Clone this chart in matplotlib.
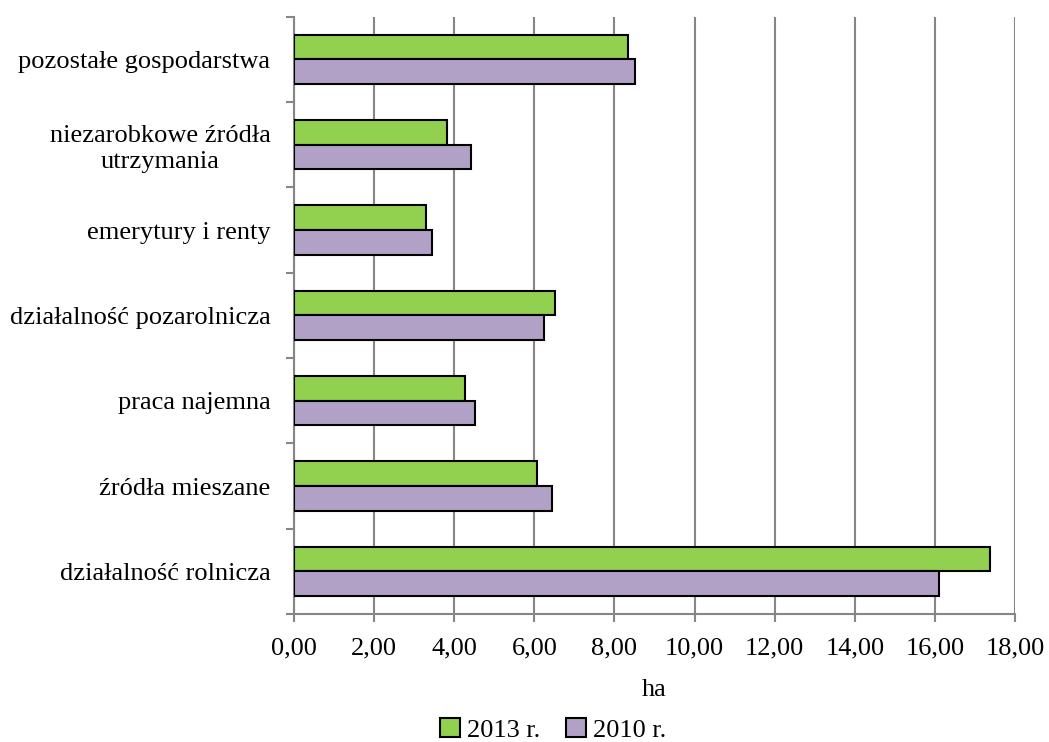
import matplotlib
matplotlib.use("Agg")
import matplotlib.pyplot as plt
import numpy as np

categories = ["działalność rolnicza", "źródła mieszane", "praca najemna",
              "działalność pozarolnicza", "emerytury i renty",
              "niezarobkowe źródła\nutrzymania", "pozostałe gospodarstwa"]
values_2013 = [17.37, 6.07, 4.28, 6.52, 3.30, 3.82, 8.33]
values_2010 = [16.10, 6.43, 4.53, 6.24, 3.45, 4.41, 8.52]
xticks = [0, 2, 4, 6, 8, 10, 12, 14, 16, 18]
xticklabels = ["0,00", "2,00", "4,00", "6,00", "8,00", "10,00", "12,00", "14,00", "16,00", "18,00"]
series_labels = ["2013 r.", "2010 r."]

plt.rcParams['font.family'] = ['Liberation Serif', 'DejaVu Serif']
FS = 19

fig = plt.figure(figsize=(10.49, 7.42), dpi=100)
ax = fig.add_axes([294/1049, 1-614/742, (1015-294)/1049, (614-16.7)/742])

y = np.arange(len(categories))
h = 0.289
ax.barh(y + h/2, values_2013, height=h, color="#92D050", edgecolor="black",
        linewidth=1.5, label=series_labels[0], zorder=3)
ax.barh(y - h/2, values_2010, height=h, color="#B2A1C7", edgecolor="black",
        linewidth=1.5, label=series_labels[1], zorder=3)

ax.set_xlim(0, 18)
ax.set_ylim(-0.5, len(categories) - 0.5)
ax.set_xticks(xticks)
ax.set_xticklabels(xticklabels, fontsize=FS)
ax.set_yticks(y)
ax.set_yticklabels(categories, fontsize=FS, linespacing=1.25,
                   multialignment="center")
ax.tick_params(axis="y", length=0, pad=17)
ax.set_yticks(np.arange(-0.5, len(categories), 1), minor=True)
ax.tick_params(axis="y", which="minor", length=6, color="#868686", width=1.5)
ax.tick_params(axis="x", length=6, color="#868686", width=1.5, pad=11)

ax.grid(axis="x", color="#868686", linewidth=1.5, zorder=0)
for s in ["top", "right"]:
    ax.spines[s].set_visible(False)
for s in ["left", "bottom"]:
    ax.spines[s].set_color("#868686")
    ax.spines[s].set_linewidth(1.5)

ax.set_xlabel("ha", fontsize=FS, labelpad=14)

leg = fig.legend(loc="center", bbox_to_anchor=(553/1049, 1-730/742), ncol=2,
                 frameon=False, fontsize=FS, handlelength=0.75, handleheight=0.75,
                 handletextpad=0.25, columnspacing=1.0)

fig.savefig("out.png", dpi=100)
